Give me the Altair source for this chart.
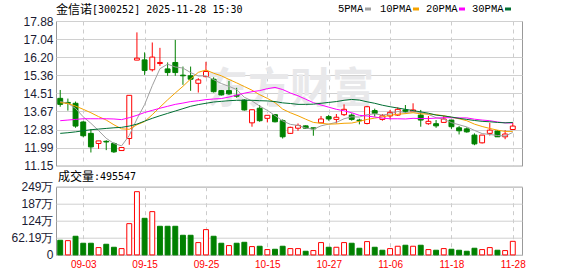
import json
import altair as alt
import pandas as pd

# ---------------- data ----------------
opens = [14.28, 14.09, 14.05, 13.18, 12.65, 12.18, 12.28, 12.18, 11.85, 12.41,
         16.06, 16.07, 15.61, 15.90, 15.65, 15.95, 15.36, 15.33, 14.98, 15.29,
         15.17, 14.64, 14.64, 14.42, 14.20, 13.14, 13.82, 13.35, 13.52, 13.24,
         12.65, 12.89, 13.00, 12.91, 13.14, 13.43, 13.30, 13.52, 13.50, 13.27,
         13.11, 13.71, 13.30, 13.46, 13.50, 13.74, 13.66, 13.50, 13.10, 13.10,
         13.16, 13.27, 12.91, 12.86, 12.57, 12.21, 12.65, 12.76, 12.49, 12.83]
closes = [14.00, 14.05, 12.99, 12.54, 12.02, 12.30, 12.25, 11.79, 11.99, 14.42,
          16.15, 15.58, 16.20, 15.95, 15.48, 15.48, 15.33, 15.17, 15.14, 15.53,
          14.59, 14.44, 14.49, 14.38, 13.74, 13.75, 13.24, 13.49, 13.19, 12.49,
          12.93, 13.02, 12.89, 12.86, 13.32, 13.32, 13.40, 13.77, 13.30, 13.24,
          13.89, 13.58, 13.47, 13.63, 13.77, 13.67, 13.74, 13.27, 13.21, 13.00,
          13.32, 12.96, 12.77, 12.72, 12.16, 12.57, 12.80, 12.49, 12.62, 12.99]
highs = [14.67, 14.27, 14.13, 13.22, 12.85, 12.30, 12.33, 12.23, 11.99, 14.42,
         17.35, 16.42, 16.88, 16.63, 15.95, 17.00, 15.76, 15.76, 15.22, 15.98,
         15.26, 14.67, 15.09, 14.77, 14.24, 13.77, 13.97, 13.49, 13.55, 13.30,
         12.96, 13.11, 13.02, 12.91, 13.46, 13.51, 13.55, 14.00, 13.58, 13.33,
         13.93, 13.80, 13.55, 13.74, 13.86, 13.97, 14.05, 13.74, 13.46, 13.27,
         13.47, 13.27, 12.99, 12.93, 12.65, 12.57, 13.14, 12.80, 12.80, 13.16]
lows = [13.89, 13.71, 12.91, 12.47, 11.76, 11.93, 11.87, 11.74, 11.85, 12.12,
        16.06, 15.37, 15.53, 15.79, 15.33, 15.33, 14.91, 14.63, 14.55, 15.26,
        14.55, 14.41, 14.44, 14.31, 13.71, 12.96, 13.19, 13.16, 13.16, 12.41,
        12.62, 12.77, 12.86, 12.54, 13.14, 13.24, 13.11, 13.46, 13.24, 13.07,
        13.07, 13.43, 13.24, 13.30, 13.46, 13.58, 13.66, 12.96, 13.05, 12.91,
        13.16, 12.86, 12.60, 12.68, 12.10, 12.18, 12.55, 12.49, 12.38, 12.83]
ma5 = [14.13, 14.05, 13.81, 13.42, 13.12, 12.78, 12.42, 12.18, 12.07, 12.55,
       13.32, 13.99, 14.87, 15.66, 15.87, 15.74, 15.69, 15.48, 15.32, 15.33,
       15.15, 14.97, 14.84, 14.69, 14.33, 14.16, 13.92, 13.72, 13.48, 13.23,
       13.07, 13.02, 12.90, 12.84, 13.00, 13.08, 13.16, 13.33, 13.42, 13.41,
       13.52, 13.56, 13.50, 13.56, 13.67, 13.62, 13.66, 13.62, 13.53, 13.38,
       13.31, 13.15, 13.05, 12.95, 12.79, 12.64, 12.60, 12.55, 12.53, 12.69]
ma10 = [14.08, 14.04, 13.92, 13.77, 13.61, 13.43, 13.27, 13.05, 12.86, 12.84,
        13.05, 13.20, 13.52, 13.87, 14.21, 14.53, 14.84, 15.18, 15.49, 15.60,
        15.45, 15.33, 15.16, 15.00, 14.83, 14.66, 14.45, 14.28, 14.08, 13.78,
        13.61, 13.47, 13.31, 13.16, 13.12, 13.08, 13.09, 13.12, 13.13, 13.21,
        13.30, 13.36, 13.42, 13.49, 13.54, 13.57, 13.61, 13.56, 13.55, 13.52,
        13.47, 13.40, 13.33, 13.24, 13.08, 12.97, 12.88, 12.80, 12.74, 12.74]
ma20 = [13.24, 13.27, 13.30, 13.33, 13.33, 13.33, 13.33, 13.32, 13.29, 13.38,
        13.49, 13.62, 13.72, 13.82, 13.91, 14.00, 14.06, 14.13, 14.17, 14.22,
        14.25, 14.27, 14.34, 14.43, 14.52, 14.59, 14.64, 14.73, 14.79, 14.69,
        14.53, 14.40, 14.24, 14.08, 13.97, 13.87, 13.77, 13.70, 13.61, 13.49,
        13.46, 13.41, 13.36, 13.33, 13.33, 13.32, 13.35, 13.34, 13.34, 13.36,
        13.38, 13.38, 13.37, 13.37, 13.31, 13.27, 13.24, 13.18, 13.14, 13.13]
ma30 = [12.65, 12.68, 12.72, 12.77, 12.82, 12.85, 12.88, 12.91, 12.93, 12.99,
        13.08, 13.22, 13.35, 13.47, 13.58, 13.69, 13.80, 13.91, 13.99, 14.05,
        14.11, 14.14, 14.17, 14.19, 14.19, 14.19, 14.17, 14.16, 14.13, 14.07,
        14.04, 14.00, 14.00, 14.01, 14.05, 14.09, 14.13, 14.19, 14.23, 14.20,
        14.12, 14.05, 13.96, 13.89, 13.83, 13.77, 13.71, 13.65, 13.59, 13.50,
        13.46, 13.41, 13.35, 13.30, 13.25, 13.21, 13.19, 13.16, 13.14, 13.16]
volumes_wan = [53.4, 52.0, 68.0, 42.5, 42.5, 26.7, 38.8, 27.9, 23.0, 114.0,
               230.6, 133.5, 157.8, 104.4, 104.4, 104.4, 71.6, 71.6, 44.9, 92.2,
               68.0, 42.5, 34.0, 42.5, 46.0, 30.3, 31.6, 19.4, 20.6, 31.6,
               23.0, 23.0, 13.3, 15.8, 44.9, 27.9, 27.9, 44.9, 42.5, 24.3,
               48.5, 27.9, 17.0, 23.0, 31.6, 35.2, 31.6, 35.2, 19.4, 17.0,
               23.0, 20.6, 17.0, 13.3, 24.3, 19.4, 26.7, 17.0, 15.8, 49.55]
volume_up = [0, 1, 0, 0, 0, 1, 0, 0, 1, 1,
             1, 0, 1, 0, 0, 0, 0, 0, 1, 1,
             0, 0, 1, 0, 0, 1, 0, 1, 0, 0,
             1, 1, 0, 1, 1, 0, 1, 1, 0, 0,
             1, 0, 0, 1, 1, 0, 1, 0, 1, 0,
             1, 0, 0, 0, 0, 1, 1, 0, 1, 1]

date_tick_index = [3, 11, 19, 27, 35, 43, 51, 59]
date_tick_labels = ["09-03", "09-15", "09-25", "10-15", "10-27", "11-06", "11-18", "11-28"]
price_ticks = [11.15, 11.99, 12.83, 13.67, 14.51, 15.36, 16.20, 17.04, 17.88]
volume_ticks = [0, 62.19, 124.38, 186.57, 248.76]
volume_tick_labels = ["0", "62.19万", "124万", "187万", "249万"]

stock_name = "金信诺"
title_rest = "[300252] 2025-11-28 15:30"
volume_name = "成交量"
volume_value = ":495547"
watermark = "东方财富"
legend_names = ["5PMA", "10PMA", "20PMA", "30PMA"]

# ---------------- styles ----------------
RED = "#ff0000"
GREEN = "#008000"
MA_COLORS = ["#a0a0a0", "#f5a300", "#ff00ff", "#006f33"]
GRID = "#d0d0d0"
LABEL_FONT = "Liberation Sans"
PW, PH, VH, GAP = 466, 144.6, 68.2, 20.7

n = len(closes)
df = pd.DataFrame({
    "i": list(range(n)),
    "open": opens, "close": closes, "high": highs, "low": lows,
    "ma5": ma5, "ma10": ma10, "ma20": ma20, "ma30": ma30,
    "vol": volumes_wan,
    "dir": ["up" if c >= o else "down" for o, c in zip(opens, closes)],
    "vdir": ["up" if u else "down" for u in volume_up],
})

xs = alt.Scale(domain=[-0.55, 60.2], nice=False, zero=False)
ys = alt.Scale(domain=[11.15, 17.88], nice=False, zero=False)
vs = alt.Scale(domain=[0, 248.76], nice=False, zero=False)
stroke_scale = alt.Scale(domain=["up", "down"], range=[RED, GREEN])
fill_scale = alt.Scale(domain=["up", "down"], range=["#ffffff", GREEN])

x_axis_price = alt.Axis(values=date_tick_index, grid=True, gridDash=[4, 4], gridColor="#cccccc",
                        labels=False, ticks=False, domain=False, title=None)
y_axis_price = alt.Axis(values=price_ticks, format=".2f", grid=True, gridColor=GRID, ticks=False,
                        domain=False, title=None, labelFont=LABEL_FONT, labelFontSize=12,
                        labelColor="#1b1b33", labelPadding=3)

date_expr = "%s[indexof(%s, datum.value)]" % (json.dumps(date_tick_labels), json.dumps(date_tick_index))
vol_expr = "%s[indexof(%s, datum.value)]" % (json.dumps(volume_tick_labels, ensure_ascii=False),
                                             json.dumps(volume_ticks))
x_axis_vol = alt.Axis(values=date_tick_index, labelExpr=date_expr, grid=True, gridDash=[4, 4],
                      gridColor="#cccccc", ticks=False, domain=False, title=None,
                      labelFont=LABEL_FONT, labelFontSize=10, labelColor=RED, labelPadding=5)
y_axis_vol = alt.Axis(values=volume_ticks, labelExpr=vol_expr, grid=True, gridColor=GRID, ticks=False,
                      domain=False, title=None, labelFont=LABEL_FONT, labelFontSize=12,
                      labelColor="#1b1b33", labelPadding=3)

base = alt.Chart(df)
one = lambda **kw: alt.Chart(pd.DataFrame({k: [v] for k, v in kw.items()}))

wm = one(t=watermark).mark_text(font="Noto Sans CJK SC", fontSize=42, fontWeight="bold",
                                 color="#e8e8ea", align="center", baseline="middle").encode(
    x=alt.value(234), y=alt.value(69), text="t:N")

wicks = base.mark_rule(strokeWidth=1).encode(
    x=alt.X("i:Q", scale=xs, axis=x_axis_price),
    y=alt.Y("low:Q", scale=ys, axis=y_axis_price),
    y2="high:Q",
    color=alt.Color("dir:N", scale=stroke_scale, legend=None))

bodies = base.transform_calculate(x1="datum.i - 0.32", x2="datum.i + 0.32").mark_rect(strokeWidth=1).encode(
    x=alt.X("x1:Q", scale=xs, axis=x_axis_price), x2="x2:Q",
    y=alt.Y("open:Q", scale=ys, axis=y_axis_price), y2="close:Q",
    fill=alt.Fill("dir:N", scale=fill_scale, legend=None),
    stroke=alt.Stroke("dir:N", scale=stroke_scale, legend=None))

lines = []
for col, c in zip(["ma5", "ma10", "ma20", "ma30"], MA_COLORS):
    lines.append(base.mark_line(color=c, strokeWidth=1).encode(
        x=alt.X("i:Q", scale=xs, axis=x_axis_price),
        y=alt.Y(col + ":Q", scale=ys, axis=y_axis_price)))

title1 = one(t=stock_name).mark_text(font="Noto Sans CJK SC", fontSize=12, color="#000000",
                                      align="left", baseline="middle").encode(
    x=alt.value(0), y=alt.value(-11.5), text="t:N")
title2 = one(t=title_rest).mark_text(font="DejaVu Sans Mono", fontSize=10, color="#000000",
                                      align="left", baseline="middle").encode(
    x=alt.value(36), y=alt.value(-11.5), text="t:N")

legend_layers = []
legend_x = [282, 324, 370, 416]
legend_sq = [309, 357, 403, 449]
for name, c, lx, sx in zip(legend_names, MA_COLORS, legend_x, legend_sq):
    legend_layers.append(one(t=name).mark_text(font="Liberation Mono", fontSize=10.5, color="#000000",
                                               align="left", baseline="middle").encode(
        x=alt.value(lx), y=alt.value(-12), text="t:N"))
    legend_layers.append(one(t=name).mark_rect(color=c).encode(
        x=alt.value(sx), x2=alt.value(sx + 6), y=alt.value(-13.5), y2=alt.value(-10.5)))

price = alt.layer(wm, wicks, bodies, *lines, title1, title2, *legend_layers).properties(
    width=PW, height=PH)

vbars = base.transform_calculate(x1="datum.i - 0.32", x2="datum.i + 0.32").mark_rect(strokeWidth=1).encode(
    x=alt.X("x1:Q", scale=xs, axis=x_axis_vol), x2="x2:Q",
    y=alt.Y("vol:Q", scale=vs, axis=y_axis_vol), y2=alt.datum(0),
    fill=alt.Fill("vdir:N", scale=fill_scale, legend=None),
    stroke=alt.Stroke("vdir:N", scale=stroke_scale, legend=None))
vt1 = one(t=volume_name).mark_text(font="Noto Sans CJK SC", fontSize=12, color="#000000",
                                    align="left", baseline="middle").encode(
    x=alt.value(2), y=alt.value(-9.5), text="t:N")
vt2 = one(t=volume_value).mark_text(font="DejaVu Sans Mono", fontSize=10, color="#000000",
                                     align="left", baseline="middle").encode(
    x=alt.value(38), y=alt.value(-9.5), text="t:N")
volume = alt.layer(vbars, vt1, vt2).properties(width=PW, height=VH)

# With autosize "none" the concatenated view keeps its content width but a zero height,
# so the padding alone fixes the page to 578 x 276.
chart = alt.vconcat(price, volume, spacing=GAP, bounds="flush").properties(
    autosize="none",
    padding={"left": 56, "top": 21, "right": 578 - 56 - PW, "bottom": 276 - 21},
).configure_view(stroke="#999999", strokeWidth=1)

chart.save("out.html", embed_options={"renderer": "svg", "actions": False})
